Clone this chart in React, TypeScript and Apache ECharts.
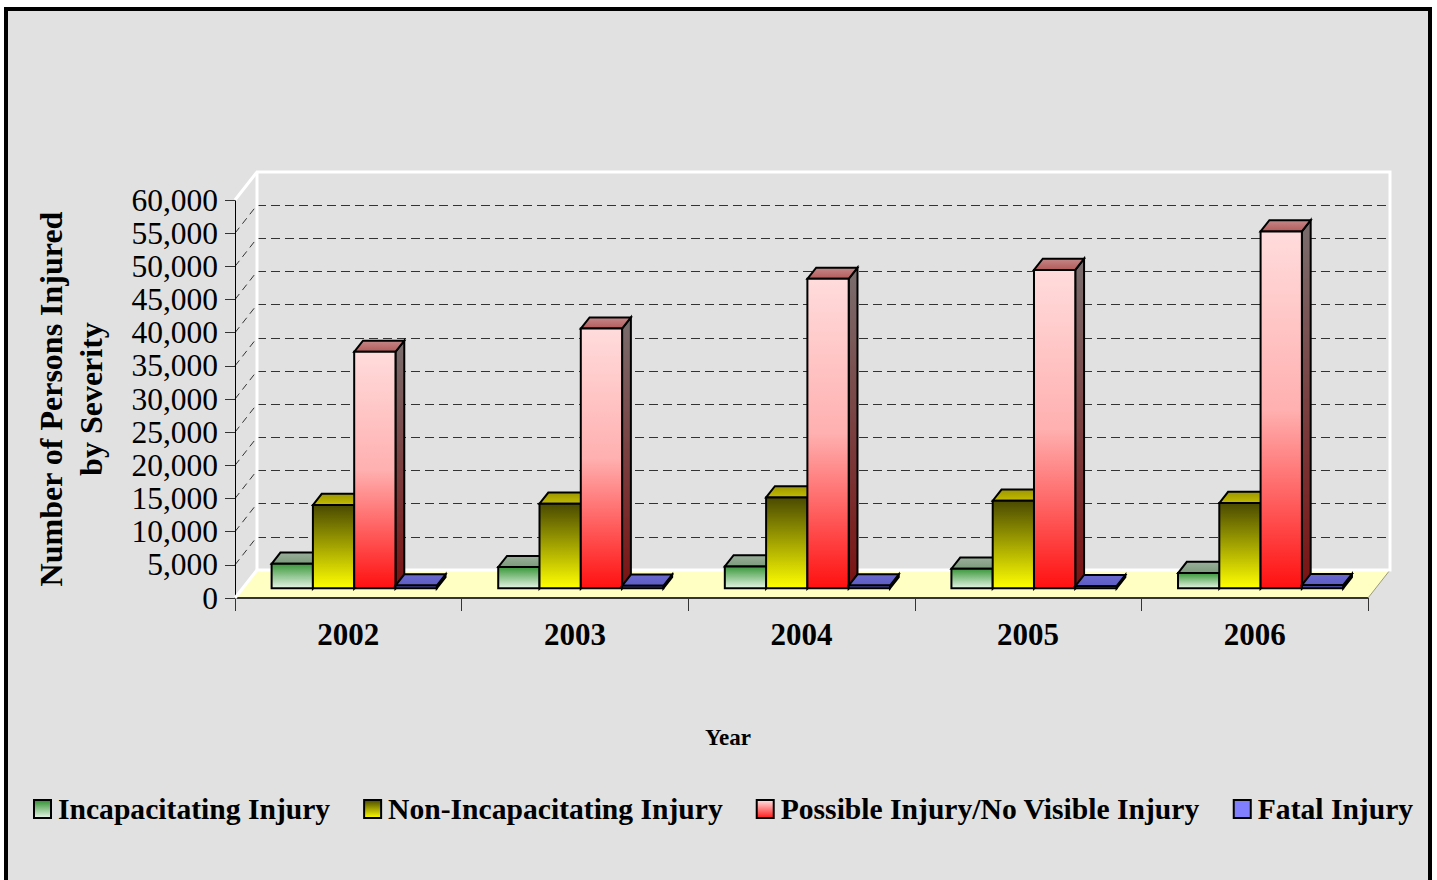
import React, { useEffect, useRef } from "react";
import * as echarts from "echarts";

// ---------- data ----------
const YEARS = ["2002", "2003", "2004", "2005", "2006"];
const INCAPACITATING = [3700, 3200, 3300, 2950, 2300];
const NON_INCAPACITATING = [12550, 12750, 13700, 13200, 12850];
const POSSIBLE = [35650, 39150, 46650, 48000, 53800];
const FATAL = [420, 380, 420, 330, 480];
const SERIES_NAMES = [
  "Incapacitating Injury",
  "Non-Incapacitating Injury",
  "Possible Injury/No Visible Injury",
  "Fatal Injury",
];
const Y_TICKS = [0, 5000, 10000, 15000, 20000, 25000, 30000, 35000, 40000, 45000, 50000, 55000, 60000];
const Y_MAX = 60000;
const Y_STEP = 5000;

// ---------- layout ----------
const FONT = "'Liberation Serif', 'Times New Roman', serif";
const FL = 235; // front plane left
const FR = 1368; // front plane right
const FT = 200; // front plane top
const FB = 598; // front plane bottom (floor front edge)
const W = 1437;
const H = 880;
const DX = 22; // depth offset
const DY = -28;
const F1 = 0.346; // bar front depth fraction
const F2 = 0.746; // bar back depth fraction
const GROUP_OFFSET = 0.128;
const BAR_FRAC = 0.1822;

const lg = (stops: string[]) =>
  new echarts.graphic.LinearGradient(
    0,
    0,
    0,
    1,
    stops.map((c, i) => ({ offset: i / (stops.length - 1), color: c }))
  );

const PALETTE = [
  {
    front: ["#3a973a", "#e6f4e6"],
    top: ["#9aae9a", "#7b9b7b"],
    side: ["#2e6e2e", "#1f4f1f"],
    legend: ["#2f8f2f", "#eaf6ea"],
  },
  {
    front: ["#4a4a00", "#ffff00"],
    top: ["#9c9600", "#c4bc00"],
    side: ["#5a5a00", "#8a8a00"],
    legend: ["#4a4a00", "#ffff00"],
  },
  {
    front: ["#ffdcdc", "#ffb0b0", "#ff1010"],
    top: ["#c48888", "#b45a5a"],
    side: ["#7a6e6e", "#7a1212"],
    legend: ["#ffe4e4", "#ff1a1a"],
  },
  {
    front: ["#6464cc", "#5a5ac4"],
    top: ["#6a6ad0", "#5c5cc4"],
    side: ["#3c3c80", "#2c2c70"],
    legend: ["#8080ff", "#8080ff"],
  },
];

const SERIES_VALUES = [INCAPACITATING, NON_INCAPACITATING, POSSIBLE, FATAL];

function makeRenderItem(s: number) {
  const pal = PALETTE[s];
  const front = lg(pal.front);
  const top = lg(pal.top);
  const side = lg(pal.side);
  return (params: any, api: any) => {
    const cat = api.value(0);
    const v = api.value(1);
    const base = api.coord([cat, 0]);
    const tp = api.coord([cat, v]);
    const bw = api.size([1, 0])[0];
    const left = base[0] - bw / 2 + bw * (GROUP_OFFSET + s * BAR_FRAC) + F1 * DX;
    const right = left + bw * BAR_FRAC;
    const yb = base[1] + F1 * DY;
    const yt = tp[1] + F1 * DY;
    const ddx = (F2 - F1) * DX;
    const ddy = (F2 - F1) * DY;
    const st = { stroke: "#000", lineWidth: 2, lineJoin: "miter" };
    return {
      type: "group",
      children: [
        {
          type: "polygon",
          shape: { points: [[right, yt], [right + ddx, yt + ddy], [right + ddx, yb + ddy], [right, yb]] },
          style: { ...st, fill: side },
        },
        {
          type: "polygon",
          shape: { points: [[left, yt], [left + ddx, yt + ddy], [right + ddx, yt + ddy], [right, yt]] },
          style: { ...st, fill: top },
        },
        {
          type: "rect",
          shape: { x: left, y: yt, width: right - left, height: Math.max(yb - yt, 0.5) },
          style: { ...st, fill: front },
        },
      ],
    };
  };
}

export default function App() {
  const ref = useRef<HTMLDivElement>(null);
  useEffect(() => {
    if (!ref.current) return;
    const chart = echarts.init(ref.current, undefined, { renderer: "svg" });
    const white = { stroke: "#ffffff", lineWidth: 3 };
    const option: any = {
      animation: false,
      backgroundColor: "#ffffff",
      grid: [
        { left: FL, top: FT, width: FR - FL, height: FB - FT },
        { left: FL + DX, top: FT + DY, width: FR - FL, height: FB - FT },
      ],
      xAxis: [
        {
          gridIndex: 0,
          type: "category",
          data: YEARS,
          axisLine: { show: true, lineStyle: { color: "#333", width: 2 } },
          axisTick: { show: true, length: 13, lineStyle: { color: "#333", width: 1 } },
          axisLabel: {
            interval: 0,
            margin: 21,
            color: "#000",
            fontFamily: FONT,
            fontWeight: "bold",
            fontSize: 31,
          },
          splitLine: { show: false },
        },
        { gridIndex: 1, type: "category", data: YEARS, show: false },
      ],
      yAxis: [
        {
          gridIndex: 0,
          type: "value",
          min: 0,
          max: Y_MAX,
          interval: Y_STEP,
          axisLine: { show: true, lineStyle: { color: "#000", width: 1 } },
          axisTick: { show: true, length: 10, lineStyle: { color: "#333" } },
          axisLabel: {
            margin: 17,
            color: "#000",
            fontFamily: FONT,
            fontSize: 31.5,
            formatter: (v: number) => v.toLocaleString("en-US"),
          },
          splitLine: { show: false },
        },
        {
          gridIndex: 1,
          type: "value",
          min: 0,
          max: Y_MAX,
          interval: Y_STEP,
          axisLine: { show: false },
          axisTick: { show: false },
          axisLabel: { show: false },
          splitLine: { show: true, lineStyle: { color: "#333", width: 1, type: [9, 5] } },
        },
      ],
      legend: {
        left: 28,
        top: 789,
        itemWidth: 17,
        itemHeight: 18,
        itemGap: 33,
        icon: "rect",
        selectedMode: false,
        textStyle: { fontFamily: FONT, fontWeight: "bold", fontSize: 29.6, color: "#000", padding: [0, 0, 0, 2] },
        data: SERIES_NAMES.map((n, i) => ({
          name: n,
          icon: "rect",
          itemStyle: { color: lg(PALETTE[i].legend), borderColor: "#000", borderWidth: 2 },
        })),
      },
      graphic: [
        {
          type: "rect",
          z: -10,
          silent: true,
          shape: { x: 6, y: 9, width: W - 13, height: H + 40 },
          style: { fill: "#e1e1e1", stroke: "#000", lineWidth: 4 },
        },
        {
          type: "polygon",
          z: -5,
          silent: true,
          shape: { points: [[FL, FB], [FR, FB], [FR + DX, FB + DY], [FL + DX, FB + DY]] },
          style: { fill: "#ffffc4" },
        },
        {
          type: "line",
          z: 1,
          silent: true,
          shape: { x1: FR, y1: FB, x2: FR + DX, y2: FB + DY },
          style: { stroke: "#9a9a80", lineWidth: 1 },
        },
        {
          type: "polyline",
          z: 1,
          silent: true,
          shape: {
            points: [
              [FL, FT],
              [FL + DX, FT + DY],
              [FR + DX, FT + DY],
              [FR + DX, FB + DY],
              [FL + DX, FB + DY],
              [FL, FB],
            ],
          },
          style: { ...white, fill: null },
        },
        {
          type: "line",
          z: 1,
          silent: true,
          shape: { x1: FL + DX, y1: FT + DY, x2: FL + DX, y2: FB + DY },
          style: white,
        },
        {
          type: "text",
          x: 71,
          y: 399,
          rotation: Math.PI / 2,
          silent: true,
          style: {
            text: "Number of Persons Injured\nby Severity",
            fontFamily: FONT,
            fontWeight: "bold",
            fontSize: 32,
            lineHeight: 40,
            align: "center",
            verticalAlign: "middle",
            fill: "#000",
          },
        },
        {
          type: "text",
          x: 728,
          y: 737,
          silent: true,
          style: {
            text: "Year",
            fontFamily: FONT,
            fontWeight: "bold",
            fontSize: 23,
            align: "center",
            verticalAlign: "middle",
            fill: "#000",
          },
        },
      ],
      series: [
        {
          type: "custom",
          name: "sideGrid",
          xAxisIndex: 0,
          yAxisIndex: 0,
          silent: true,
          z: 0,
          data: Y_TICKS.slice(1, -1).map((v) => [0, v]),
          renderItem: (params: any, api: any) => {
            const y = api.coord([0, api.value(1)])[1];
            const x = params.coordSys.x;
            return {
              type: "line",
              shape: { x1: x, y1: y, x2: x + DX, y2: y + DY },
              style: { stroke: "#333", lineWidth: 1, lineDash: [7, 5] },
            };
          },
        },
        ...SERIES_NAMES.map((n, s) => ({
          type: "custom",
          name: n,
          xAxisIndex: 0,
          yAxisIndex: 0,
          silent: true,
          z: 2,
          itemStyle: { color: lg(PALETTE[s].legend), borderColor: "#000", borderWidth: 2 },
          data: SERIES_VALUES[s].map((v, i) => [i, v]),
          renderItem: makeRenderItem(s),
        })),
      ],
    };
    chart.setOption(option);
    return () => chart.dispose();
  }, []);
  return (
    <div
      ref={ref}
      style={{ position: "absolute", left: 0, top: 0, width: W, height: H }}
    />
  );
}
